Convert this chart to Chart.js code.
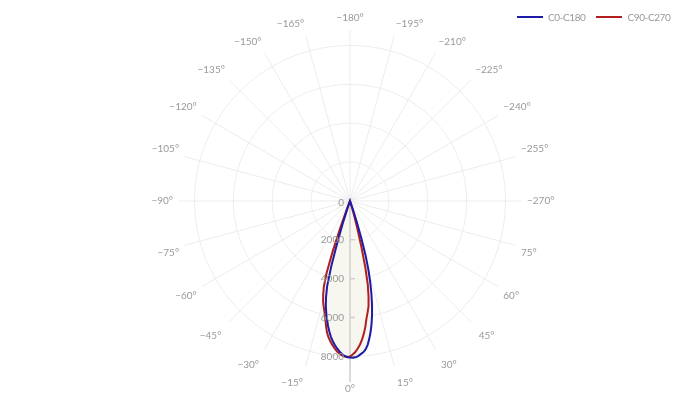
<!DOCTYPE html>
<html>
<head>
<meta charset="utf-8">
<script src="https://cdn.jsdelivr.net/npm/chart.js@4.4.0/dist/chart.umd.min.js"></script>
<style>
  html, body { margin: 0; padding: 0; background: #fff; }
  #wrap { position: relative; width: 700px; height: 404px; }
  #legend { position: absolute; top: 11px; left: 517px; display: flex; font: 10px Lato, sans-serif; letter-spacing: -0.4px; color: #999; }
  .item { display: flex; align-items: center; margin-right: 11px; }
  .swatch { width: 26px; height: 2px; margin-right: 5px; }
</style>
</head>
<body>
<div id="wrap">
  <canvas id="chart" width="700" height="404"></canvas>
  <div id="legend"></div>
</div>
<script>
// angle labels every 15 degrees, clockwise starting at the bottom
const angleLabels = ['0°', '−15°', '−30°', '−45°', '−60°', '−75°', '−90°', '−105°', '−120°', '−135°', '−150°', '−165°',
    '−180°', '−195°', '−210°', '−225°', '−240°', '−255°', '−270°', '75°', '60°', '45°', '30°', '15°'];
const radialTicks = [0, 2000, 4000, 6000, 8000];
const seriesNames = ['C0-C180', 'C90-C270'];
const seriesColors = ['#1c1ca8', '#b01e1e'];

// intensity (cd) per degree of gamma, 0..22; 0 beyond that
const c0   = [8060, 8070, 8050, 7990, 7900, 7820, 7680, 7460, 7150, 6800, 6400, 5950, 5450, 4900, 4300, 3650, 2900, 2000, 1100, 450, 100, 0, 0];
const c180 = [8060, 8040, 7980, 7880, 7760, 7620, 7450, 7270, 7060, 6800, 6520, 6200, 5880, 5530, 5100, 4550, 3500, 2200, 1100, 400, 100, 0, 0];
const c90  = [8000, 7900, 7780, 7600, 7400, 7150, 6850, 6500, 6100, 5800, 5500, 5000, 4400, 3500, 2400, 1400, 700, 250, 0, 0, 0, 0, 0];
const c270 = [8000, 8020, 8010, 7960, 7870, 7760, 7620, 7460, 7290, 7100, 6850, 6500, 6150, 5850, 5600, 5350, 5000, 4600, 3900, 2700, 1400, 500, 100];

const COUNT = 360; // one category per degree
const FONT = 'Lato, sans-serif';

const categories = [];
for (let i = 0; i < COUNT; i++) {
    categories.push(i % 15 === 0 ? angleLabels[i / 15] : '');
}

// right half goes to the end of the list (counter clockwise), left half from index 1
function buildSeries(right, left) {
    const data = new Array(COUNT).fill(0);
    right.forEach((v, g) => { data[(COUNT - g) % COUNT] = v; });
    left.forEach((v, g) => { if (g > 0) data[g] = v; });
    return data;
}

// labels near the bottom sit a little further out
function labelPadding(c) {
    const i = c.index;
    if (i <= 45 || i >= 315) return 11;
    return 6;
}

// axis line down the 0° direction, plus its tick labels
const radialAxis = {
    id: 'radialAxis',
    beforeDatasetsDraw(chart) {
        const r = chart.scales.r;
        const ctx = chart.ctx;
        const start = r.getPointPositionForValue(0, 0);
        const end = r.getPointPosition(0, r.drawingArea + 10);
        ctx.save();
        ctx.strokeStyle = '#cfcfcf';
        ctx.lineWidth = 1.5;
        ctx.beginPath();
        ctx.moveTo(start.x, start.y);
        ctx.lineTo(end.x, end.y);
        r.ticks.forEach(t => {
            if (t.value <= 0) return;
            const p = r.getPointPositionForValue(0, t.value);
            ctx.moveTo(p.x, p.y);
            ctx.lineTo(p.x + 5, p.y);
        });
        ctx.stroke();
        ctx.restore();
    },
    afterDatasetsDraw(chart) {
        const r = chart.scales.r;
        const ctx = chart.ctx;
        ctx.save();
        ctx.fillStyle = '#999';
        ctx.font = '10px ' + FONT;
        ctx.textAlign = 'right';
        ctx.textBaseline = 'middle';
        r.ticks.forEach(t => {
            const p = r.getPointPositionForValue(0, t.value);
            ctx.fillText(String(t.value), p.x - 6, p.y + (t.value === 0 ? 2 : 0));
        });
        ctx.restore();
    }
};

const chart = new Chart(document.getElementById('chart'), {
    type: 'radar',
    data: {
        labels: categories,
        datasets: [
            {
                label: seriesNames[0],
                data: buildSeries(c0, c180),
                borderColor: seriesColors[0],
                backgroundColor: '#f7f6ef',
                fill: 'origin',
                borderWidth: 2,
                pointRadius: 0,
                tension: 0
            },
            {
                label: seriesNames[1],
                data: buildSeries(c90, c270),
                borderColor: seriesColors[1],
                backgroundColor: '#f7f6ef',
                fill: 'origin',
                borderWidth: 2,
                pointRadius: 0,
                tension: 0
            }
        ]
    },
    options: {
        responsive: false,
        animation: false,
        layout: { padding: { top: 10, bottom: 6 } },
        plugins: {
            legend: { display: false },
            tooltip: { enabled: false },
            filler: { drawTime: 'beforeDatasetsDraw' }
        },
        scales: {
            r: {
                startAngle: 180,
                min: 0,
                max: 8800,
                ticks: { display: false },
                afterBuildTicks: scale => {
                    scale.ticks = radialTicks.map(v => ({ value: v }));
                },
                grid: { color: '#ececec' },
                angleLines: {
                    color: c => c.index % 15 === 0 ? '#ececec' : 'transparent',
                    lineWidth: c => c.index % 15 === 0 ? 1 : 0
                },
                pointLabels: {
                    font: { family: FONT, size: 10 },
                    color: '#999',
                    padding: labelPadding
                }
            }
        }
    },
    plugins: [radialAxis]
});

// html legend
const legend = document.getElementById('legend');
seriesNames.forEach((name, i) => {
    const item = document.createElement('div');
    item.className = 'item';
    const sw = document.createElement('span');
    sw.className = 'swatch';
    sw.style.background = seriesColors[i];
    const txt = document.createElement('span');
    txt.textContent = name;
    item.appendChild(sw);
    item.appendChild(txt);
    legend.appendChild(item);
});
</script>
</body>
</html>
